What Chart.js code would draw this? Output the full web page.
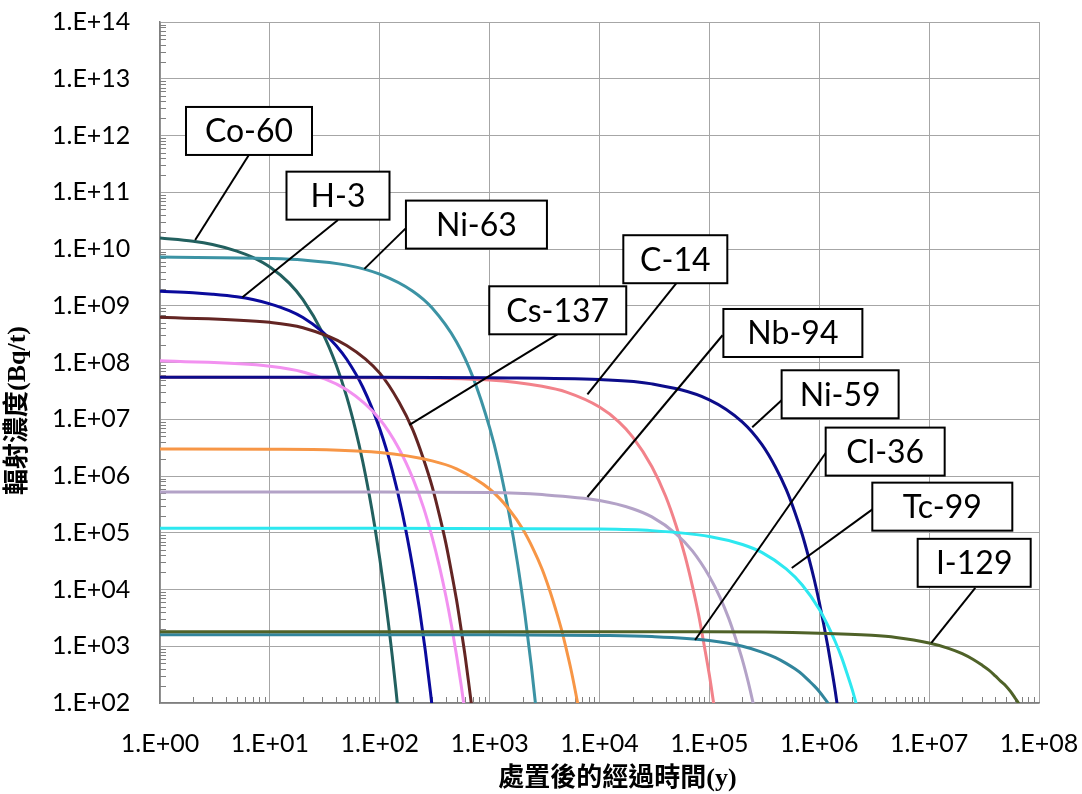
<!DOCTYPE html>
<html>
<head>
<meta charset="utf-8">
<title>輻射濃度</title>
<script src="https://cdn.jsdelivr.net/npm/chart.js@4.4.1/dist/chart.umd.min.js"></script>
<style>
  body { margin: 0; background: #fff; }
  canvas { display: block; }
</style>
</head>
<body>
<canvas id="myChart" width="1082" height="794"></canvas>
<script>
// values (years, Bq/t)
const co60Years = [1, 2, 3, 5, 7, 10, 15, 20, 30, 40, 50, 60, 70, 80, 90, 100, 110, 120, 130, 140, 150]
const co60Values = [1.56e10, 1.37e10, 1.2e10, 9.2e9, 7.1e9, 4.8e9, 2.5e9, 1.28e9, 3.4e8, 9.2e7, 2.5e7, 6.7e6, 1.8e6, 4.8e5, 1.3e5, 3.5e4, 9.3e3, 2.5e3, 6.7e2, 1.8e2, 48]

const h3Years = [1, 2, 3, 5, 7, 10, 15, 20, 30, 40, 50, 70, 100, 130, 160, 200, 230, 260, 290, 320]
const h3Values = [1.8e9, 1.7e9, 1.6e9, 1.44e9, 1.29e9, 1.08e9, 8.2e8, 6.2e8, 3.5e8, 2.0e8, 1.14e8, 3.7e7, 6.8e6, 1.26e6, 2.3e5, 2.4e4, 4.5e3, 8.3e2, 1.5e2, 28]

const ni63Years = [1, 10, 20, 50, 100, 200, 300, 500, 700, 1000, 1200, 1500, 1800, 2100, 2400, 2700]
const ni63Values = [7.2e9, 6.8e9, 6.4e9, 5.2e9, 3.6e9, 1.8e9, 9.1e8, 2.3e8, 5.7e7, 7.1e6, 1.8e6, 2.2e5, 2.8e4, 3.5e3, 4.4e2, 54]

const cs137Years = [1, 10, 20, 50, 100, 150, 200, 250, 300, 350, 400, 450, 500, 550, 600, 650, 700]
const cs137Values = [6.3e8, 5.1e8, 4.1e8, 2.0e8, 6.5e7, 2.0e7, 6.5e6, 2.0e6, 6.5e5, 2.0e5, 6.5e4, 2.0e4, 6.5e3, 2.0e3, 6.5e2, 2.0e2, 65]

const sr90Years = [1, 10, 20, 50, 100, 150, 200, 250, 300, 350, 400, 450, 500, 550, 600]
const sr90Values = [1.07e8, 8.6e7, 6.8e7, 3.3e7, 1.0e7, 3.0e6, 9.1e5, 2.8e5, 8.3e4, 2.5e4, 7.6e3, 2.3e3, 6.9e2, 2.1e2, 63]

const am241Years = [1, 10, 100, 300, 500, 1000, 1500, 2000, 2500, 3000, 3500, 4000, 4500, 5000, 5500, 6000, 6500]
const am241Values = [3.0e6, 2.97e6, 2.6e6, 1.85e6, 1.34e6, 5.9e5, 2.6e5, 1.16e5, 5.1e4, 2.3e4, 1.0e4, 4.4e3, 2.0e3, 8.7e2, 3.9e2, 1.7e2, 75]

const c14Years = [1, 100, 1000, 3000, 5000, 1e4, 1.5e4, 2e4, 3e4, 4e4, 5e4, 6e4, 7e4, 8e4, 9e4, 1e5, 1.1e5]
const c14Values = [5.5e7, 5.4e7, 4.9e7, 3.8e7, 3.0e7, 1.64e7, 9.0e6, 4.9e6, 1.46e6, 4.4e5, 1.3e5, 3.9e4, 1.16e4, 3.5e3, 1.0e3, 3.1e2, 92]

const ni59Years = [1, 100, 1e3, 1e4, 3e4, 1e5, 2e5, 3e5, 4e5, 5e5, 6e5, 7e5, 8e5, 9e5, 1e6, 1.1e6, 1.2e6, 1.3e6, 1.4e6, 1.5e6]
const ni59Values = [5.5e7, 5.5e7, 5.4e7, 5.0e7, 4.2e7, 2.2e7, 8.9e6, 3.6e6, 1.43e6, 5.8e5, 2.3e5, 9.3e4, 3.7e4, 1.5e4, 6.0e3, 2.4e3, 9.7e2, 3.9e2, 1.6e2, 63]

const nb94Years = [1, 100, 1e3, 3e3, 1e4, 2e4, 3e4, 5e4, 7e4, 1e5, 1.25e5, 1.5e5, 1.75e5, 2e5, 2.25e5, 2.5e5, 2.75e5]
const nb94Values = [5.2e5, 5.2e5, 5.1e5, 4.7e5, 3.7e5, 2.65e5, 1.9e5, 9.5e4, 4.8e4, 1.7e4, 7.3e3, 3.1e3, 1.3e3, 5.7e2, 2.4e2, 1.0e2, 44]

const tc99Years = [1, 100, 1e4, 3e4, 1e5, 2e5, 3e5, 5e5, 7e5, 1e6, 1.2e6, 1.4e6, 1.6e6, 1.8e6, 2e6, 2.2e6, 2.4e6]
const tc99Values = [1.2e5, 1.2e5, 1.16e5, 1.09e5, 8.6e4, 6.2e4, 4.5e4, 2.3e4, 1.2e4, 4.5e3, 2.3e3, 1.2e3, 6.3e2, 3.2e2, 1.7e2, 87, 45]

const cl36Years = [1, 1e3, 1e4, 3e4, 1e5, 2e5, 3e5, 4e5, 5e5, 6e5, 7e5, 8e5, 9e5, 1e6, 1.1e6, 1.2e6, 1.3e6]
const cl36Values = [1.6e3, 1.6e3, 1.55e3, 1.48e3, 1.26e3, 1.0e3, 7.9e2, 6.3e2, 5.0e2, 4.0e2, 3.2e2, 2.5e2, 2.0e2, 1.6e2, 1.26e2, 1.0e2, 79]

const i129Years = [1, 1e3, 1e5, 1e6, 3e6, 5e6, 1e7, 1.5e7, 2e7, 2.5e7, 3e7, 3.5e7, 4e7, 4.5e7, 5e7, 5.5e7, 6e7, 6.5e7, 7e7]
const i129Values = [1.8e3, 1.8e3, 1.8e3, 1.7e3, 1.56e3, 1.43e3, 1.14e3, 9.2e2, 7.4e2, 5.9e2, 4.7e2, 3.8e2, 3.0e2, 2.4e2, 2.0e2, 1.6e2, 1.26e2, 1.0e2, 81]

const xTicks = [1e0, 1e1, 1e2, 1e3, 1e4, 1e5, 1e6, 1e7, 1e8]
const xTickLabels = ['1.E+00', '1.E+01', '1.E+02', '1.E+03', '1.E+04', '1.E+05', '1.E+06', '1.E+07', '1.E+08']
const yTicks = [1e2, 1e3, 1e4, 1e5, 1e6, 1e7, 1e8, 1e9, 1e10, 1e11, 1e12, 1e13, 1e14]
const yTickLabels = ['1.E+02', '1.E+03', '1.E+04', '1.E+05', '1.E+06', '1.E+07', '1.E+08', '1.E+09', '1.E+10', '1.E+11', '1.E+12', '1.E+13', '1.E+14']

const xTitle = '處置後的經過時間(y)'
const yTitle = '輻射濃度(Bq/t)'

// first entry is drawn on top
const series = [
  { label: 'I-129', years: i129Years, values: i129Values, color: '#4f6228' },
  { label: 'Cl-36', years: cl36Years, values: cl36Values, color: '#31859c' },
  { label: 'Tc-99', years: tc99Years, values: tc99Values, color: '#2de8f0' },
  { label: 'Nb-94', years: nb94Years, values: nb94Values, color: '#b3a2c7' },
  { label: 'Ni-59', years: ni59Years, values: ni59Values, color: '#0c0c8a' },
  { label: 'C-14', years: c14Years, values: c14Values, color: '#f2828a' },
  { label: 'Am-241', years: am241Years, values: am241Values, color: '#f79646' },
  { label: 'Sr-90', years: sr90Years, values: sr90Values, color: '#f291f0' },
  { label: 'Cs-137', years: cs137Years, values: cs137Values, color: '#632523' },
  { label: 'Ni-63', years: ni63Years, values: ni63Values, color: '#3c93a4' },
  { label: 'H-3', years: h3Years, values: h3Values, color: '#0a0a9c' },
  { label: 'Co-60', years: co60Years, values: co60Values, color: '#22605f' },
]

// callout boxes, in log10 data coordinates
const callouts = [
  { text: 'Co-60', box: [0.81, 12.08], w: 126, from: [0.81, 11.66], to: [0.32, 10.16] },
  { text: 'H-3', box: [1.62, 10.94], w: 103, from: [1.62, 10.51], to: [0.75, 9.15] },
  { text: 'Ni-63', box: [2.88, 10.43], w: 141, from: [2.25, 10.39], to: [1.86, 9.65] },
  { text: 'C-14', box: [4.69, 9.82], w: 104, from: [4.70, 9.40], to: [3.89, 7.44] },
  { text: 'Cs-137', box: [3.62, 8.92], w: 137, from: [3.62, 8.50], to: [2.27, 6.90] },
  { text: 'Nb-94', box: [5.76, 8.52], w: 139, from: [5.12, 8.48], to: [3.89, 5.63] },
  { text: 'Ni-59', box: [6.19, 7.44], w: 117, from: [5.66, 7.34], to: [5.39, 6.86] },
  { text: 'Cl-36', box: [6.60, 6.43], w: 119, from: [6.06, 6.41], to: [4.87, 3.11] },
  { text: 'Tc-99', box: [7.12, 5.46], w: 140, from: [6.49, 5.42], to: [5.75, 4.38] },
  { text: 'I-129', box: [7.41, 4.47], w: 113, from: [7.42, 4.03], to: [7.02, 3.06] },
]

const minorTicks = {
  id: 'minorTicks',
  beforeDatasetsDraw(chart) {
    const { ctx, chartArea, scales: { x, y } } = chart
    ctx.save()
    ctx.strokeStyle = '#808080'
    ctx.lineWidth = 1
    ctx.beginPath()
    for (let e = 2; e < 14; e++) {
      for (let m = 2; m < 10; m++) {
        const py = Math.round(y.getPixelForValue(m * 10 ** e)) + 0.5
        ctx.moveTo(chartArea.left, py)
        ctx.lineTo(chartArea.left + 6, py)
      }
    }
    for (let e = 0; e < 8; e++) {
      for (let m = 2; m < 10; m++) {
        const px = Math.round(x.getPixelForValue(m * 10 ** e)) + 0.5
        ctx.moveTo(px, chartArea.bottom)
        ctx.lineTo(px, chartArea.bottom - 6)
      }
    }
    ctx.stroke()
    ctx.restore()
  }
}

const calloutBoxes = {
  id: 'calloutBoxes',
  afterDatasetsDraw(chart) {
    const { ctx, scales: { x, y } } = chart
    const px = (p) => [x.getPixelForValue(10 ** p[0]), y.getPixelForValue(10 ** p[1])]
    ctx.save()
    ctx.strokeStyle = '#000'
    ctx.lineWidth = 2
    callouts.forEach(c => {
      const [fx, fy] = px(c.from)
      const [tx, ty] = px(c.to)
      ctx.beginPath()
      ctx.moveTo(fx, fy)
      ctx.lineTo(tx, ty)
      ctx.stroke()
    })
    ctx.font = '32px Lato'
    ctx.textAlign = 'center'
    ctx.textBaseline = 'middle'
    callouts.forEach(c => {
      const [cx, cy] = px(c.box)
      const h = 48
      ctx.fillStyle = '#fff'
      ctx.fillRect(cx - c.w / 2, cy - h / 2, c.w, h)
      ctx.strokeRect(cx - c.w / 2, cy - h / 2, c.w, h)
      ctx.fillStyle = '#000'
      ctx.fillText(c.text, cx, cy + 1)
    })
    ctx.restore()
  }
}

const axisTitles = {
  id: 'axisTitles',
  afterDraw(chart) {
    const { ctx, chartArea } = chart
    ctx.save()
    ctx.fillStyle = '#000'
    ctx.font = 'bold 26px "Liberation Serif", "Noto Sans CJK TC"'
    ctx.textAlign = 'center'
    ctx.textBaseline = 'middle'
    ctx.fillText(xTitle, (chartArea.left + chartArea.right) / 2 + 18, 779)
    ctx.translate(18, (chartArea.top + chartArea.bottom) / 2 + 48)
    ctx.rotate(-Math.PI / 2)
    ctx.fillText(yTitle, 0, 0)
    ctx.restore()
  }
}

const datasets = series.map(s => ({
  label: s.label,
  data: s.years.map((t, i) => ({ x: t, y: s.values[i] })),
  borderColor: s.color,
  backgroundColor: s.color,
  borderWidth: 3,
  pointRadius: 0,
  cubicInterpolationMode: 'monotone',
  fill: false
}))

new Chart(document.getElementById('myChart'), {
  type: 'line',
  data: { datasets },
  options: {
    responsive: false,
    animation: false,
    devicePixelRatio: 1,
    layout: { padding: { left: 52, top: 22, right: 43, bottom: 0 } },
    plugins: { legend: { display: false }, tooltip: { enabled: false } },
    scales: {
      x: {
        type: 'logarithmic',
        min: 1,
        max: 1e8,
        afterBuildTicks: (scale) => { scale.ticks = xTicks.map(v => ({ value: v })) },
        afterFit: (scale) => { scale.height = 91 },
        ticks: {
          callback: (v) => xTickLabels[xTicks.indexOf(v)],
          font: { family: 'Lato', size: 25, lineHeight: 3.1 },
          color: '#000',
          padding: 2,
          maxRotation: 0,
          autoSkip: false
        },
        grid: { color: '#a6a6a6', drawTicks: false },
        border: { color: '#7f7f7f', width: 1.5 }
      },
      y: {
        type: 'logarithmic',
        min: 1e2,
        max: 1e14,
        afterBuildTicks: (scale) => { scale.ticks = yTicks.map(v => ({ value: v })) },
        afterFit: (scale) => { scale.width = 108 },
        ticks: {
          callback: (v) => yTickLabels[yTicks.indexOf(v)],
          font: { family: 'Lato', size: 25 },
          color: '#000',
          padding: 0,
          crossAlign: 'far',
          autoSkip: false
        },
        grid: { color: '#a6a6a6', drawTicks: false },
        border: { color: '#7f7f7f', width: 1.5 }
      }
    }
  },
  plugins: [minorTicks, calloutBoxes, axisTitles]
})
</script>
</body>
</html>
